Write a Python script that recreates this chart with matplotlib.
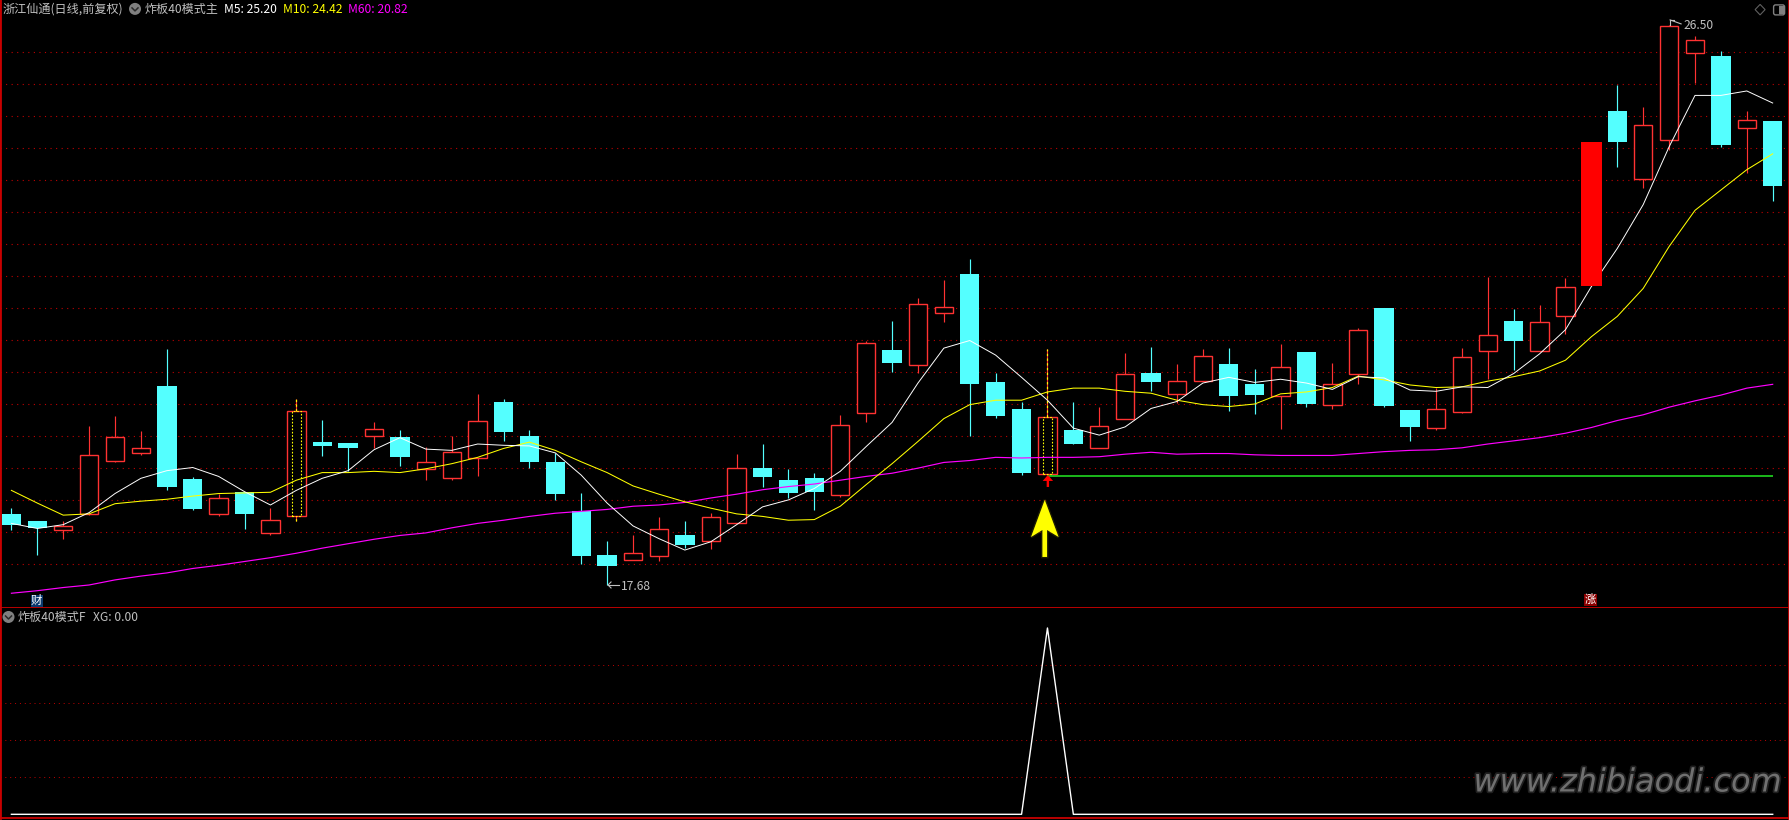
"""
Tongdaxin style K-line screen: 浙江仙通 daily candles with MA5/10/60 and the XG sub panel.
"""

import matplotlib

matplotlib.use("Agg")
import matplotlib.patheffects as pe
import matplotlib.pyplot as plt
import numpy as np
from matplotlib.patches import Circle, FancyBboxPatch, Polygon, Rectangle

plt.rcParams["font.family"] = ["Noto Sans CJK SC", "DejaVu Sans"]

W, H = 1789, 820
SEP_Y = 608.5
BOTTOM_Y = 818.5

BLACK = "#000000"
BORDER = "#C80000"
GRID = "#C00000"
CYAN = "#54FFFF"
RED = "#FF3232"
SOLID = "#FF0000"
YELLOW = "#FFFF00"
MAGENTA = "#FF00FF"
GREEN = "#20D820"
TEXT = "#C0C0C0"

high_p = [18.89, 18.69, 18.68, 20.18, 20.34, 20.11, 21.40, 19.38, 19.12, 19.15,
          18.90, 20.61, 20.28, 19.91, 20.25, 20.12, 19.85, 20.02, 20.69, 20.61,
          20.12, 19.76, 19.13, 18.37, 18.47, 18.75, 18.69, 18.81, 19.74, 19.90,
          19.51, 19.44, 20.36, 21.53, 21.84, 22.20, 22.48, 22.82, 21.02, 20.56,
          21.40, 20.56, 20.48, 21.33, 21.43, 21.16, 21.40, 21.41, 21.08, 21.48,
          21.35, 21.18, 21.73, 22.04, 20.44, 20.78, 21.41, 22.53, 22.03, 22.09,
          22.52, 24.66, 25.56, 25.21, 26.50, 26.33, 26.09, 25.15, 24.99]
low_p = [18.55, 18.16, 18.40, 18.78, 19.61, 19.73, 19.17, 18.86, 18.77, 18.56,
         18.46, 18.68, 19.71, 19.48, 19.84, 19.55, 19.33, 19.33, 19.40, 19.95,
         19.52, 19.02, 18.01, 17.68, 18.08, 18.06, 18.27, 18.25, 18.66, 19.22,
         19.05, 18.86, 19.07, 20.25, 21.04, 21.02, 21.82, 20.03, 20.31, 19.41,
         19.43, 19.90, 19.83, 20.30, 20.74, 20.54, 20.90, 20.42, 20.37, 20.14,
         20.48, 20.45, 20.85, 20.48, 19.95, 20.12, 20.39, 20.92, 21.07, 21.37,
         21.63, 22.39, 24.26, 23.93, 24.53, 25.59, 24.58, 24.17, 23.73]
open_p = [18.80, 18.69, 18.55, 18.80, 19.64, 19.76, 20.81, 19.35, 18.80, 19.15,
          18.50, 18.76, 19.93, 19.91, 20.02, 20.01, 19.51, 19.37, 19.68, 20.56,
          20.03, 19.62, 18.84, 18.15, 18.08, 18.14, 18.47, 18.38, 18.66, 19.52,
          19.33, 19.37, 19.09, 20.39, 21.38, 21.15, 21.97, 22.58, 20.88, 20.45,
          19.43, 20.12, 19.83, 20.30, 21.02, 20.69, 20.90, 21.16, 20.85, 20.65,
          21.35, 20.52, 21.01, 22.04, 20.44, 20.16, 20.41, 21.37, 21.84, 21.37,
          21.91, 22.39, 25.15, 24.08, 24.68, 26.06, 26.01, 24.88, 24.99]
close_p = [18.63, 18.57, 18.61, 19.72, 20.01, 19.83, 19.23, 18.88, 19.05, 18.80,
           18.71, 20.42, 19.87, 19.84, 20.13, 19.70, 19.61, 19.77, 20.26, 20.09,
           19.62, 19.11, 18.14, 17.98, 18.18, 18.56, 18.31, 18.75, 19.52, 19.38,
           19.13, 19.15, 20.20, 21.49, 21.18, 22.10, 22.05, 20.85, 20.34, 19.44,
           20.32, 19.90, 20.18, 21.01, 20.88, 20.90, 21.28, 20.66, 20.67, 21.12,
           20.53, 20.84, 21.69, 20.50, 20.17, 20.45, 21.27, 21.61, 21.52, 21.82,
           22.38, 24.66, 24.66, 24.92, 26.48, 26.27, 24.61, 25.00, 23.96]

ma5 = [18.65, 18.57, 18.63, 18.82, 19.12, 19.36, 19.48, 19.53, 19.39, 19.15,
       18.94, 19.17, 19.36, 19.48, 19.81, 20.00, 19.82, 19.80, 19.90, 19.88,
       19.87, 19.76, 19.41, 18.97, 18.61, 18.41, 18.23, 18.36, 18.63, 18.91,
       19.02, 19.20, 19.47, 19.86, 20.24, 20.86, 21.41, 21.53, 21.30, 20.95,
       20.59, 20.15, 20.04, 20.17, 20.46, 20.57, 20.86, 20.95, 20.87, 20.92,
       20.86, 20.76, 20.96, 20.94, 20.75, 20.73, 20.80, 20.79, 21.01, 21.32,
       21.70, 22.38, 22.98, 23.67, 24.58, 25.39, 25.39, 25.46, 25.27]
ma10 = [19.17, 18.97, 18.78, 18.80, 18.96, 19.00, 19.03, 19.08, 19.12, 19.13,
        19.14, 19.33, 19.45, 19.45, 19.47, 19.45, 19.51, 19.59, 19.69, 19.83,
        19.93, 19.80, 19.62, 19.45, 19.24, 19.11, 18.99, 18.89, 18.80, 18.76,
        18.70, 18.71, 18.92, 19.26, 19.59, 19.94, 20.30, 20.52, 20.59, 20.59,
        20.72, 20.78, 20.78, 20.73, 20.70, 20.59, 20.52, 20.49, 20.53, 20.69,
        20.72, 20.79, 20.97, 20.91, 20.83, 20.79, 20.80, 20.89, 20.96, 21.05,
        21.22, 21.59, 21.91, 22.35, 23.01, 23.58, 23.90, 24.22, 24.47]
ma60 = [17.55, 17.59, 17.64, 17.68, 17.76, 17.82, 17.87, 17.94, 17.99, 18.05,
        18.11, 18.18, 18.26, 18.33, 18.40, 18.46, 18.50, 18.58, 18.65, 18.70,
        18.76, 18.81, 18.84, 18.87, 18.92, 18.94, 18.98, 19.05, 19.11, 19.18,
        19.23, 19.27, 19.33, 19.39, 19.44, 19.52, 19.61, 19.64, 19.69, 19.68,
        19.69, 19.69, 19.70, 19.74, 19.77, 19.74, 19.75, 19.75, 19.73, 19.72,
        19.72, 19.72, 19.75, 19.78, 19.80, 19.81, 19.84, 19.90, 19.95, 20.00,
        20.07, 20.16, 20.27, 20.36, 20.48, 20.58, 20.67, 20.78, 20.84]

xg = [0.0] * 40 + [1.0] + [0.0] * 28

signal_idx = [11, 40]
solid_idx = [61]
support_price = 19.40
support_start = 40

# price and XG scales fitted to the screen
price_top = 26.894
price_per_px = 0.01575
grid_prices = 26.07 - 0.504 * np.arange(17)
xg_per_px = 1 / 186.3
xg_grid = [0.2, 0.4, 0.6, 0.8]


def new_axes(fig, y0, y1):
    ax = fig.add_axes([0, 1 - y1 / H, 1, (y1 - y0) / H], facecolor=BLACK)
    ax.set_xlim(-11.4 / 25.9, (W - 11.4) / 25.9)
    ax.set_xticks([])
    ax.set_yticks([])
    ax.spines["top"].set_visible(False)
    ax.spines["bottom"].set_color(BORDER)
    ax.spines["bottom"].set_linewidth(1.3)
    for side in ["left", "right"]:
        ax.spines[side].set_color(BORDER)
        ax.spines[side].set_linewidth(2.0)
    return ax


def dotted(ax, values, lw=0.8):
    ax.hlines(values, -11.4 / 25.9, (W - 11.4) / 25.9, color=GRID, lw=lw,
              linestyles=[(0, (1.0, 4.0))], zorder=1)


def draw_candles(ax):
    x = np.arange(len(open_p))
    o, c, hi, lo = map(np.array, (open_p, close_p, high_p, low_p))
    up = c >= o
    solid = np.isin(x, solid_idx)
    ax.vlines(x[up], lo[up], hi[up], color=RED, lw=0.85, zorder=2)
    ax.vlines(x[~up], lo[~up], hi[~up], color=CYAN, lw=0.85, zorder=2)
    hollow = up & ~solid
    ax.bar(x[hollow], (c - o)[hollow], bottom=o[hollow], width=0.71,
           facecolor=BLACK, edgecolor=RED, linewidth=1.0, zorder=3)
    ax.bar(x[~up], (o - c)[~up], bottom=c[~up], width=0.75,
           facecolor=CYAN, edgecolor="none", zorder=3)
    ax.bar(x[solid], (c - o)[solid], bottom=o[solid], width=0.81,
           facecolor=SOLID, edgecolor="none", zorder=6)
    # signal candles carry a narrow dotted yellow box and wick
    for i in signal_idx:
        ax.bar(i, c[i] - o[i], bottom=o[i], width=0.33, facecolor="none",
               edgecolor=YELLOW, linewidth=0.8, linestyle=(0, (1.5, 1.5)), zorder=4)
        ax.vlines(i, c[i], hi[i], color=YELLOW, lw=0.85,
                  linestyles=[(0, (2, 2))], zorder=4)
        ax.vlines(i, lo[i], o[i], color=YELLOW, lw=0.85,
                  linestyles=[(0, (2, 2))], zorder=4)


def draw_main(ax):
    ax.set_ylim(price_top - SEP_Y * price_per_px, price_top)
    dotted(ax, grid_prices)
    draw_candles(ax)
    x = np.arange(len(ma5))
    ax.plot(x, ma60, color=MAGENTA, lw=0.85, zorder=5)
    ax.plot(x, ma10, color=YELLOW, lw=0.75, zorder=5)
    ax.plot(x, ma5, color="white", lw=0.7, zorder=5)
    ax.hlines(support_price, support_start, x[-1], color=GREEN, lw=1.2, zorder=5)


def draw_sub(ax):
    ax.set_ylim(-(BOTTOM_Y - 814.3) * xg_per_px, (814.3 - SEP_Y) * xg_per_px)
    dotted(ax, xg_grid, lw=0.7)
    ax.plot(np.arange(len(xg)), xg, color="white", lw=1.0, zorder=5)


def label(ov, x, y, text, color=TEXT, size=8.7, **kw):
    ov.text(x, y, text, color=color, fontsize=size, ha=kw.pop("ha", "left"),
            va="center", **kw)


def menu_icon(ov, x, y):
    ov.add_patch(Circle((x, y), 6, facecolor="#808080", edgecolor="none"))
    ov.plot([x - 3, x, x + 3], [y - 1, y + 2, y - 1], color="#2A2A2A", lw=1.1)


def draw_overlay(ov):
    ov.set_xlim(0, W)
    ov.set_ylim(H, 0)
    ov.axis("off")

    label(ov, 3, 9, "浙江仙通(日线,前复权)")
    menu_icon(ov, 135, 9)
    label(ov, 145, 9, "炸板40模式主")
    label(ov, 224, 9, "M5: 25.20", color="white")
    label(ov, 283, 9, "M10: 24.42", color=YELLOW)
    label(ov, 348, 9, "M60: 20.82", color=MAGENTA)
    menu_icon(ov, 8.5, 617)
    label(ov, 18, 617, "炸板40模式F")
    label(ov, 93, 617, "XG: 0.00")

    # extreme price tags
    ov.plot([608, 619], [585, 585], color=TEXT, lw=0.8)
    ov.plot([611, 608, 611], [582, 585, 588], color=TEXT, lw=0.8)
    label(ov, 620.5, 586.5, "17.68")
    ov.plot([1670, 1681], [20, 24], color=TEXT, lw=0.8)
    ov.plot([1670, 1670, 1674], [25, 20, 20], color=TEXT, lw=0.8)
    label(ov, 1683.5, 25.5, "26.50")

    # window buttons
    ov.add_patch(Polygon([(1760, 4.5), (1765, 9.7), (1760, 15), (1755, 9.7)],
                         facecolor="none", edgecolor="#606060", lw=0.8))
    ov.add_patch(FancyBboxPatch((1774, 5.5), 10, 9, boxstyle="round,pad=0.5,rounding_size=2",
                                facecolor="none", edgecolor="#808080", lw=1.0))
    ov.add_patch(Rectangle((1779, 6), 5, 8, facecolor="#808080", edgecolor="none"))

    # signal arrows
    ov.add_patch(Polygon([(1047.8, 475), (1053, 481), (1049, 481), (1049, 487),
                          (1046.6, 487), (1046.6, 481), (1042.6, 481)],
                         facecolor=SOLID, edgecolor="none"))
    big = Polygon([(1044.7, 500), (1058.5, 537), (1047, 530), (1047, 557), (1042.4, 557),
                   (1042.4, 530), (1031, 537)], facecolor=YELLOW, edgecolor="none")
    big.set_path_effects([pe.withStroke(linewidth=2, foreground="#4A4A00", alpha=0.4)])
    ov.add_patch(big)

    # 财 / 涨 markers
    ov.add_patch(Rectangle((30.5, 595), 12, 12, facecolor="#0A3A6E", edgecolor="none"))
    label(ov, 36.5, 600.5, "财", color="white", size=8.2, ha="center")
    ov.add_patch(Rectangle((1584, 594), 13, 12, facecolor="#8B0000", edgecolor="none"))
    label(ov, 1590.5, 599.5, "涨", color="white", size=8.2, ha="center")

    mark = ov.text(1782, 783, "www.zhibiaodi.com", color="#707070", fontsize=23,
                   family="DejaVu Sans", style="oblique", ha="right", va="center")
    mark.set_path_effects([pe.withStroke(linewidth=2.5, foreground="#202020")])


def main():
    # the small extra keeps int() from dropping a row of pixels
    fig = plt.figure(figsize=((W + 0.1) / 100, (H + 0.1) / 100), dpi=100, facecolor=BLACK)
    ax_main = new_axes(fig, 0, SEP_Y)
    ax_sub = new_axes(fig, SEP_Y, BOTTOM_Y)
    draw_main(ax_main)
    draw_sub(ax_sub)
    ov = fig.add_axes([0, 0, 1, 1], facecolor="none")
    draw_overlay(ov)
    fig.savefig("out.png", dpi=100, facecolor=BLACK)
    plt.close(fig)


if __name__ == "__main__":
    main()
